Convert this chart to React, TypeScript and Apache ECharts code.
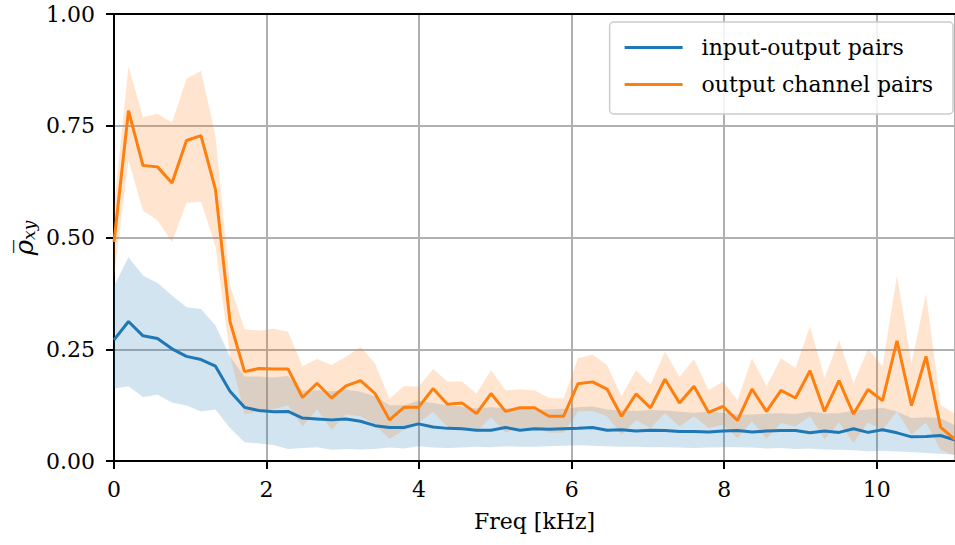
import React, { useEffect, useRef } from "react";
import * as echarts from "echarts";

// Frequency bins: 59 uniform bins from 0 to 11.025 kHz
const NYQUIST_KHZ = 11.025;
const BIN_COUNT = 59;
const FREQS = Array.from({ length: BIN_COUNT }, (_, i) => (i * NYQUIST_KHZ) / (BIN_COUNT - 1));

const X_TICKS = [0, 2, 4, 6, 8, 10];
const Y_TICKS = [0, 0.25, 0.5, 0.75, 1.0];

const SERIES_NAMES = ["input-output pairs", "output channel pairs"];

// input-output pairs: mean correlation and its spread band
const IO_MEAN = [
  0.271, 0.312, 0.28, 0.274, 0.251, 0.234, 0.227, 0.212, 0.156, 0.12,
  0.113, 0.11, 0.111, 0.096, 0.094, 0.092, 0.094, 0.089, 0.079, 0.075,
  0.075, 0.083, 0.076, 0.073, 0.072, 0.069, 0.069, 0.075, 0.069, 0.072,
  0.071, 0.072, 0.073, 0.075, 0.069, 0.07, 0.067, 0.069, 0.068, 0.066,
  0.066, 0.065, 0.067, 0.068, 0.065, 0.067, 0.068, 0.068, 0.063, 0.067,
  0.064, 0.072, 0.064, 0.07, 0.063, 0.054, 0.055, 0.057, 0.047,
];
const IO_UPPER = [
  0.391, 0.456, 0.415, 0.398, 0.37, 0.344, 0.34, 0.303, 0.234, 0.189,
  0.189, 0.187, 0.19, 0.156, 0.158, 0.156, 0.16, 0.155, 0.145, 0.125,
  0.125, 0.135, 0.13, 0.125, 0.122, 0.118, 0.12, 0.118, 0.117, 0.116,
  0.115, 0.117, 0.12, 0.122, 0.115, 0.113, 0.112, 0.114, 0.113, 0.11,
  0.108, 0.11, 0.108, 0.104, 0.104, 0.106, 0.107, 0.105, 0.111, 0.106,
  0.107, 0.113, 0.115, 0.119, 0.111, 0.096, 0.098, 0.096, 0.08,
];
const IO_LOWER = [
  0.162, 0.167, 0.143, 0.148, 0.131, 0.124, 0.111, 0.115, 0.074, 0.042,
  0.039, 0.036, 0.027, 0.029, 0.031, 0.025, 0.027, 0.026, 0.027, 0.03,
  0.028, 0.033, 0.03, 0.029, 0.03, 0.032, 0.031, 0.033, 0.032, 0.032,
  0.033, 0.034, 0.035, 0.034, 0.033, 0.032, 0.032, 0.031, 0.031, 0.03,
  0.029, 0.03, 0.031, 0.031, 0.03, 0.028, 0.029, 0.027, 0.028, 0.026,
  0.025, 0.024, 0.022, 0.023, 0.021, 0.02, 0.018, 0.016, 0.014,
];

// output channel pairs: mean correlation and its spread band
const OUT_MEAN = [
  0.49, 0.784, 0.661, 0.658, 0.622, 0.717, 0.728, 0.607, 0.312, 0.2,
  0.207, 0.206, 0.206, 0.142, 0.174, 0.141, 0.168, 0.18, 0.151, 0.092,
  0.12, 0.12, 0.162, 0.127, 0.13, 0.106, 0.151, 0.111, 0.119, 0.119,
  0.1, 0.1, 0.173, 0.177, 0.161, 0.1, 0.15, 0.119, 0.183, 0.13,
  0.167, 0.109, 0.122, 0.091, 0.161, 0.111, 0.158, 0.141, 0.202, 0.111,
  0.18, 0.105, 0.16, 0.135, 0.269, 0.124, 0.234, 0.076, 0.048,
];
const OUT_UPPER = [
  0.57, 0.883, 0.769, 0.777, 0.757, 0.855, 0.873, 0.726, 0.394, 0.295,
  0.292, 0.296, 0.289, 0.212, 0.228, 0.215, 0.233, 0.255, 0.218, 0.139,
  0.168, 0.166, 0.206, 0.178, 0.178, 0.151, 0.203, 0.158, 0.16, 0.158,
  0.141, 0.14, 0.23, 0.238, 0.215, 0.145, 0.203, 0.171, 0.245, 0.188,
  0.228, 0.158, 0.178, 0.136, 0.23, 0.167, 0.23, 0.208, 0.301, 0.186,
  0.27, 0.174, 0.251, 0.212, 0.415, 0.219, 0.374, 0.126, 0.105,
];
const OUT_LOWER = [
  0.41, 0.672, 0.56, 0.538, 0.49, 0.577, 0.58, 0.48, 0.236, 0.104,
  0.112, 0.115, 0.125, 0.077, 0.115, 0.07, 0.104, 0.1, 0.081, 0.049,
  0.07, 0.085, 0.11, 0.076, 0.074, 0.066, 0.098, 0.064, 0.074, 0.074,
  0.063, 0.063, 0.111, 0.112, 0.1, 0.059, 0.092, 0.074, 0.107, 0.077,
  0.1, 0.074, 0.081, 0.051, 0.089, 0.049, 0.085, 0.077, 0.1, 0.048,
  0.086, 0.04, 0.086, 0.07, 0.111, 0.059, 0.086, 0.025, 0.012,
];

const BLUE = "#1f77b4";
const ORANGE = "#ff7f0e";
const FONT = "DejaVu Serif";
const FONT_SIZE = 22;

function bandSeries(id: string, lower: number[], upper: number[], fill: string, z: number) {
  return {
    type: "custom",
    id,
    name: id,
    silent: true,
    clip: true,
    z,
    data: FREQS.map((f, i) => [f, lower[i], upper[i]]),
    encode: { x: 0, y: [1, 2] },
    renderItem: (params: any, api: any) => {
      if (params.dataIndex !== 0) return null;
      const pts: number[][] = [];
      for (let i = 0; i < FREQS.length; i++) pts.push(api.coord([FREQS[i], upper[i]]));
      for (let i = FREQS.length - 1; i >= 0; i--) pts.push(api.coord([FREQS[i], lower[i]]));
      return { type: "polygon", shape: { points: pts }, style: { fill } };
    },
  };
}

function lineSeries(name: string, values: number[], color: string, z: number) {
  return {
    type: "line",
    name,
    data: FREQS.map((f, i) => [f, values[i]]),
    symbol: "none",
    clip: true,
    z,
    color,
    lineStyle: { color, width: 3 },
  };
}

export default function App() {
  const ref = useRef<HTMLDivElement>(null);

  useEffect(() => {
    if (!ref.current) return;
    const chart = echarts.init(ref.current, undefined, { renderer: "svg" });
    const axisLine = { show: true, lineStyle: { color: "#000", width: 2 } };
    chart.setOption({
      animation: false,
      backgroundColor: "#fff",
      grid: { left: 114, right: -7, top: 14, bottom: 84, containLabel: false },
      xAxis: [
        {
          type: "value",
          min: 0,
          max: NYQUIST_KHZ,
          interval: 2,
          name: "Freq [kHz]",
          nameLocation: "middle",
          nameGap: 49,
          nameTextStyle: { fontFamily: FONT, fontSize: FONT_SIZE, color: "#000" },
          axisLine: { ...axisLine, onZero: false },
          axisTick: { show: true, inside: false, length: 8, lineStyle: { color: "#000", width: 2 } },
          axisLabel: {
            margin: 17,
            fontFamily: FONT,
            fontSize: FONT_SIZE,
            color: "#000",
            showMaxLabel: false,
            formatter: (v: number) => (X_TICKS.includes(v) ? String(v) : ""),
          },
          splitLine: { show: true, lineStyle: { color: "#b0b0b0", width: 2 } },
        },
        {
          type: "value",
          position: "top",
          min: 0,
          max: NYQUIST_KHZ,
          interval: 2,
          axisLine: { ...axisLine, onZero: false },
          axisTick: { show: false },
          axisLabel: { show: false },
          splitLine: { show: false },
        },
      ],
      yAxis: {
        type: "value",
        min: 0,
        max: 1,
        interval: 0.25,
        axisLine: { ...axisLine, onZero: false },
        axisTick: { show: true, inside: false, length: 8, lineStyle: { color: "#000", width: 2 } },
        axisLabel: {
          margin: 19,
          fontFamily: FONT,
          fontSize: FONT_SIZE,
          color: "#000",
          formatter: (v: number) => (Y_TICKS.includes(v) ? v.toFixed(2) : ""),
        },
        splitLine: { show: true, lineStyle: { color: "#b0b0b0", width: 2 } },
      },
      legend: {
        data: SERIES_NAMES,
        orient: "vertical",
        right: 2,
        top: 22,
        padding: [13, 20, 17, 15],
        itemGap: 12,
        itemWidth: 58,
        itemHeight: 3,
        icon: "rect",
        borderColor: "#cccccc",
        borderWidth: 1.5,
        borderRadius: 4,
        backgroundColor: "rgba(255,255,255,0.85)",
        textStyle: {
          fontFamily: FONT,
          fontSize: FONT_SIZE,
          color: "#000",
          padding: [0, 0, 0, 14],
          lineHeight: 25,
        },
      },
      graphic: [
        {
          type: "text",
          x: 22,
          y: 238,
          rotation: Math.PI / 2,
          style: {
            text: "{r|ρ\u0305}{s|xy}",
            align: "center",
            verticalAlign: "middle",
            fill: "#000",
            rich: {
              r: { fontFamily: FONT, fontStyle: "italic", fontSize: 26, lineHeight: 30, verticalAlign: "bottom" },
              s: { fontFamily: FONT, fontStyle: "italic", fontSize: 17, lineHeight: 17, verticalAlign: "bottom" },
            },
          },
        },
      ],
      series: [
        bandSeries("io-band", IO_LOWER, IO_UPPER, "rgba(31,119,180,0.2)", 1),
        bandSeries("out-band", OUT_LOWER, OUT_UPPER, "rgba(255,127,14,0.2)", 1),
        lineSeries(SERIES_NAMES[0], IO_MEAN, BLUE, 3),
        lineSeries(SERIES_NAMES[1], OUT_MEAN, ORANGE, 4),
      ],
    });
    return () => chart.dispose();
  }, []);

  return (
    <div
      ref={ref}
      style={{ position: "fixed", left: 0, top: 0, width: 955, height: 545, overflow: "hidden" }}
    />
  );
}
